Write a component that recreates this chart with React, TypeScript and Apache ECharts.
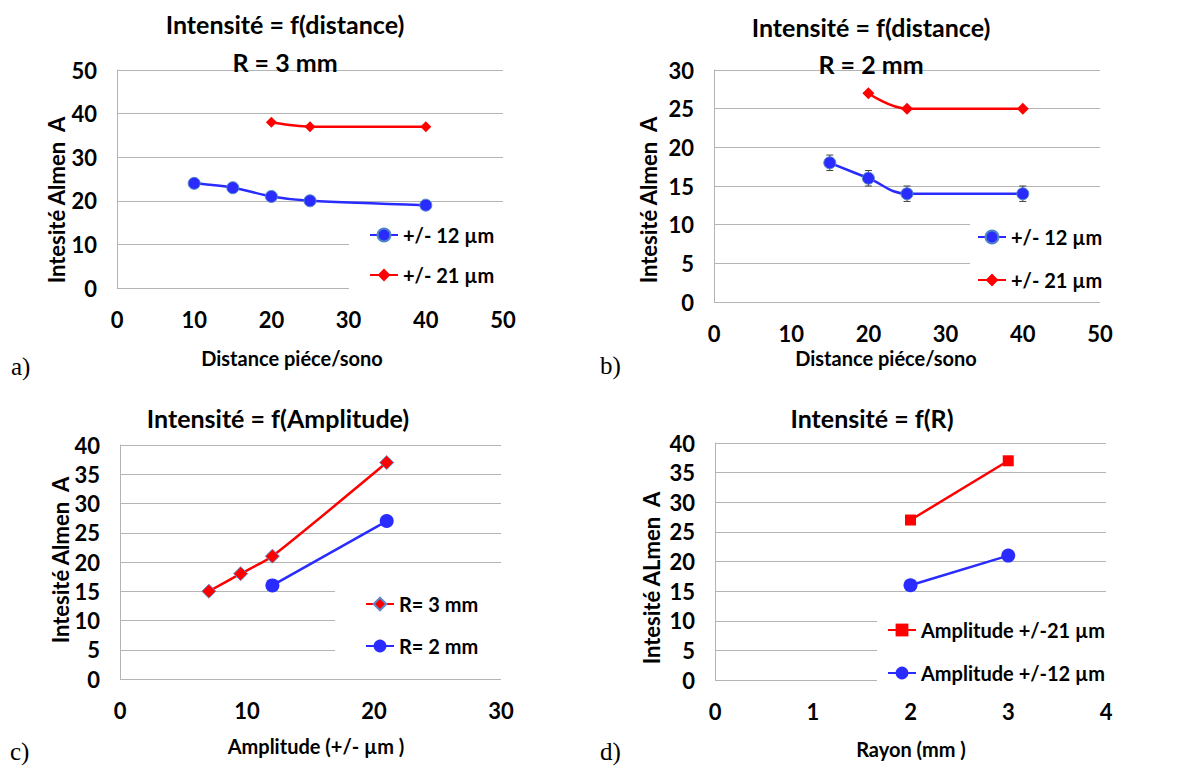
import React, { useEffect, useRef } from 'react';
import * as echarts from 'echarts';

// ---- data ----
const distA12X = [10, 15, 20, 25, 40];
const distA12Y = [24, 23, 21, 20, 19];
const distA21X = [20, 25, 40];
const distA21Y = [38, 37, 37];

const distB12X = [15, 20, 25, 40];
const distB12Y = [18, 16, 14, 14];
const distB12Err = [1, 1, 1, 1];
const distB21X = [20, 25, 40];
const distB21Y = [27, 25, 25];

const ampR3X = [7, 9.5, 12, 21];
const ampR3Y = [15, 18, 21, 37];
const ampR2X = [12, 21];
const ampR2Y = [16, 27];

const rayX = [2, 3];
const ray21Y = [27, 37];
const ray12Y = [16, 21];

const legendA = ['+/- 12 µm', '+/- 21 µm'];
const legendC = ['R= 3 mm', 'R= 2 mm'];
const legendD = ['Amplitude +/-21 µm', 'Amplitude +/-12 µm'];

const titles = ['Intensité = f(distance)', 'R = 3 mm', 'Intensité = f(distance)', 'R = 2 mm', 'Intensité = f(Amplitude)', 'Intensité = f(R)'];
const xTitles = ['Distance piéce/sono', 'Distance piéce/sono', 'Amplitude (+/- µm )', 'Rayon (mm )'];
const yTitles = ['Intesité Almen \u00a0A', 'Intesité Almen \u00a0A', 'Intesité Almen \u00a0A', 'Intesité ALmen \u00a0A'];
const panelTags = ['a)', 'b)', 'c)', 'd)'];

const pairs = (xs: number[], ys: number[]) => xs.map((x, i) => [x, ys[i]]);

const FONT = 'Lato, "Open Sans", sans-serif';
const BLUE = '#2a2cff';
const RED = '#ff0000';
const GRID = '#b4b4b4';

export default function App() {
  const ref = useRef<HTMLDivElement>(null);
  useEffect(() => {
    const chart = echarts.init(ref.current!, null, { renderer: 'svg' });

    const grids = [
      { left: 117, top: 70, width: 386, height: 218 },
      { left: 714, top: 70, width: 386, height: 232 },
      { left: 120, top: 445, width: 381, height: 234 },
      { left: 715, top: 443, width: 391, height: 237 },
    ];
    const xr = [
      [0, 50, 10],
      [0, 50, 10],
      [0, 30, 10],
      [0, 4, 1],
    ];
    const yr = [
      [0, 50, 10],
      [0, 30, 5],
      [0, 40, 5],
      [0, 40, 5],
    ];
    const lab = { color: '#000', fontWeight: 'bold', fontSize: 22, fontFamily: FONT };

    const xAxis = xr.map((r, i) => ({
      type: 'value', gridIndex: i, min: r[0], max: r[1], interval: r[2],
      axisLine: { show: false }, axisTick: { show: false }, splitLine: { show: false },
      axisLabel: { ...lab, margin: 20 },
    }));
    const yAxis = yr.map((r, i) => ({
      type: 'value', gridIndex: i, min: r[0], max: r[1], interval: r[2],
      axisLine: { show: true, lineStyle: { color: GRID, width: 1 } }, axisTick: { show: false },
      splitLine: { show: true, lineStyle: { color: GRID, width: 1 } },
      axisLabel: { ...lab, margin: 20 },
    }));

    const line = (name: string, idx: number, data: number[][], color: string, symbol: string, size: number, smooth: number | boolean, border?: string) => ({
      type: 'line', name, xAxisIndex: idx, yAxisIndex: idx, data, smooth,
      symbol, symbolSize: size, showSymbol: true,
      lineStyle: { color, width: 2.5 },
      itemStyle: { color, borderColor: border || color, borderWidth: border ? 1 : 0 },
      z: 3,
    });

    const errData = distB12X.map((x, i) => [x, distB12Y[i] - distB12Err[i], distB12Y[i] + distB12Err[i]]);

    const legendText = { color: '#000', fontWeight: 'bold', fontSize: 20, fontFamily: FONT, lineHeight: 20 };
    const legendBase = {
      orient: 'vertical', itemWidth: 28, itemHeight: 16, backgroundColor: '#fff',
      textStyle: legendText, selectedMode: false, z: 5,
    };

    const textEl = (text: string, x: number, y: number, size: number, extra: any = {}) => ({
      type: 'text', x, y, z: 10,
      style: { text, fill: '#000', font: `bold ${size}px ${FONT}`, align: 'center', verticalAlign: 'middle' },
      ...extra,
    });
    const tagEl = (text: string, x: number, y: number) => ({
      type: 'text', x, y, z: 10,
      style: { text, fill: '#000', font: '25px "Liberation Serif", "DejaVu Serif", serif', align: 'left', verticalAlign: 'middle' },
    });

    chart.setOption({
      animation: false,
      backgroundColor: '#fff',
      grid: grids,
      xAxis,
      yAxis,
      legend: [
        { ...legendBase, data: legendA, left: 349, top: 215, padding: [10, 20, 8, 20], itemGap: 20 },
        { ...legendBase, data: legendA, left: 970, top: 210, padding: [17, 8, 12, 7], itemGap: 23 },
        { ...legendBase, data: legendC, left: 335, top: 575, padding: [19, 30, 21, 30], itemGap: 22 },
        { ...legendBase, data: legendD, left: 877, top: 605, padding: [15, 6, 4, 10], itemGap: 23 },
      ],
      series: [
        line(legendA[0], 0, pairs(distA12X, distA12Y), BLUE, 'circle', 12, 0.3, '#4f86c6'),
        line(legendA[1], 0, pairs(distA21X, distA21Y), RED, 'diamond', 11, 0.3),
        {
          type: 'custom', name: 'err', xAxisIndex: 1, yAxisIndex: 1, data: errData, z: 2,
          renderItem: (params: any, api: any) => {
            const x = api.value(0);
            const lo = api.coord([x, api.value(1)]);
            const hi = api.coord([x, api.value(2)]);
            const w = 3.5;
            const st = { stroke: '#444', lineWidth: 1 };
            return {
              type: 'group',
              children: [
                { type: 'line', shape: { x1: lo[0], y1: lo[1], x2: hi[0], y2: hi[1] }, style: st },
                { type: 'line', shape: { x1: lo[0] - w, y1: lo[1], x2: lo[0] + w, y2: lo[1] }, style: st },
                { type: 'line', shape: { x1: hi[0] - w, y1: hi[1], x2: hi[0] + w, y2: hi[1] }, style: st },
              ],
            };
          },
        },
        line(legendA[0], 1, pairs(distB12X, distB12Y), BLUE, 'circle', 12, 0.4, '#4f86c6'),
        line(legendA[1], 1, pairs(distB21X, distB21Y), RED, 'diamond', 12, 0.4),
        line(legendC[0], 2, pairs(ampR3X, ampR3Y), RED, 'diamond', 14, 0.2, '#5b8fd0'),
        line(legendC[1], 2, pairs(ampR2X, ampR2Y), BLUE, 'circle', 14, false),
        line(legendD[0], 3, pairs(rayX, ray21Y), RED, 'rect', 11, false),
        line(legendD[1], 3, pairs(rayX, ray12Y), BLUE, 'circle', 14, false),
      ],
      graphic: [
        textEl(titles[0], 285, 24, 25),
        textEl(titles[1], 285, 62, 25),
        textEl(titles[2], 871, 27, 25),
        textEl(titles[3], 871, 64, 25),
        textEl(titles[4], 278, 418, 25),
        textEl(titles[5], 872, 418, 25),
        textEl(xTitles[0], 292, 358, 20),
        textEl(xTitles[1], 886, 358, 20),
        textEl(xTitles[2], 316, 746, 20),
        textEl(xTitles[3], 911, 749, 20),
        textEl(yTitles[0], 56, 200, 22, { rotation: Math.PI / 2 }),
        textEl(yTitles[1], 648, 200, 22, { rotation: Math.PI / 2 }),
        textEl(yTitles[2], 60, 560, 22, { rotation: Math.PI / 2 }),
        textEl(yTitles[3], 651, 578, 22, { rotation: Math.PI / 2 }),
        tagEl(panelTags[0], 11, 366),
        tagEl(panelTags[1], 600, 365),
        tagEl(panelTags[2], 10, 751),
        tagEl(panelTags[3], 600, 751),
      ],
    });
    return () => chart.dispose();
  }, []);
  return <div ref={ref} style={{ position: 'absolute', left: 0, top: 0, width: 1188, height: 767 }} />;
}
